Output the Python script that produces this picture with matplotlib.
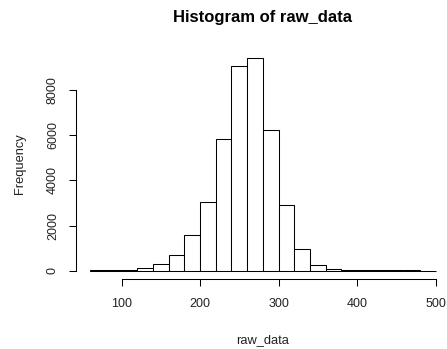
import numpy as np
import matplotlib
matplotlib.use("Agg")
import matplotlib.pyplot as plt

# Histogram data (bin edges and counts)
bin_edges = [60, 80, 100, 120, 140, 160, 180, 200, 220, 240, 260, 280,
             300, 320, 340, 360, 380, 400, 420, 440, 460, 480, 500]
counts = [25, 30, 40, 110, 290, 680, 1590, 3060, 5830, 9060, 9430, 6250,
          2900, 950, 240, 75, 40, 35, 30, 30, 25, 0]
x_ticks = [100, 200, 300, 400, 500]
y_ticks = [0, 2000, 4000, 6000, 8000]
title = "Histogram of raw_data"
x_label = "raw_data"
y_label = "Frequency"

plt.rcParams['font.family'] = ['Liberation Sans', 'DejaVu Sans']

W, H = 447, 349
fig = plt.figure(figsize=(W / 100, H / 100), dpi=100)
ax = fig.add_axes([76.3 / W, 1 - 279.2 / H, 373.2 / W, 229.9 / H])

edges = np.array(bin_edges, dtype=float)
ax.bar(edges[:-1], counts, width=np.diff(edges), align='edge',
       facecolor='white', edgecolor='black', linewidth=0.75)

# R-style 4% axis extension
xr = edges[-1] - edges[0]
ax.set_xlim(edges[0] - 0.04 * xr, edges[-1] + 0.04 * xr)
yr = max(counts)
ax.set_ylim(-0.04 * yr, yr * 1.04)

for s in ['top', 'right']:
    ax.spines[s].set_visible(False)
ax.spines['bottom'].set_bounds(x_ticks[0], x_ticks[-1])
ax.spines['left'].set_bounds(y_ticks[0], y_ticks[-1])
for s in ['bottom', 'left']:
    ax.spines[s].set_linewidth(0.75)

ax.set_xticks(x_ticks)
ax.set_yticks(y_ticks)
ax.set_xticklabels([str(v) for v in x_ticks])
ax.set_yticklabels([str(v) for v in y_ticks], rotation=90, va='center')
ax.tick_params(axis='both', direction='out', length=5, width=0.75,
               labelsize=9, colors='black', labelcolor='#222222')
ax.tick_params(axis='x', pad=8.5)
ax.tick_params(axis='y', pad=7.5)
ax.set_facecolor('none')

cx = (76.3 + 449.5) / 2 / W
fig.text(cx, 1 - 22 / H, title, ha='center', va='baseline',
         fontsize=12, fontweight='bold')
fig.text(cx, 1 - 343 / H, x_label, ha='center', va='baseline', fontsize=9.3,
         color='#222222')
fig.text(20 / W, 1 - 164 / H, y_label, ha='center', va='center', rotation=90,
         fontsize=9.3, color='#222222')

fig.savefig("out.png", dpi=100)
